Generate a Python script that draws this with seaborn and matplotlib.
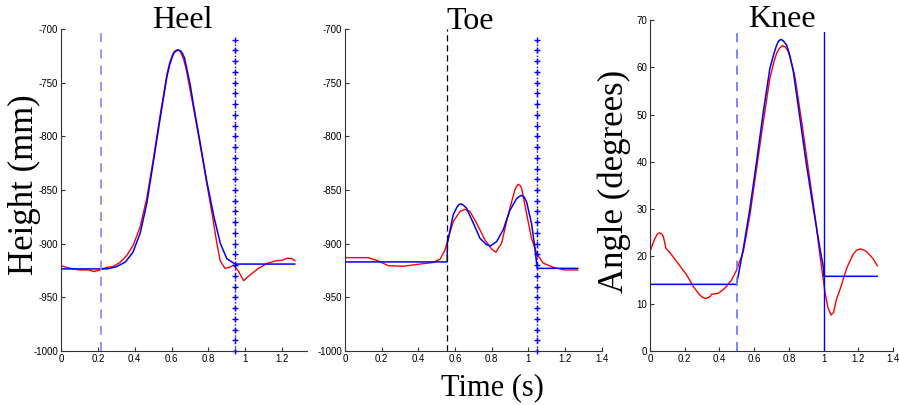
import numpy as np
import pandas as pd
import matplotlib
matplotlib.use('Agg')
import matplotlib.pyplot as plt
import seaborn as sns

# ---- data ----
heel_model_t = [0, 0.25, 0.30, 0.35, 0.39, 0.43, 0.466, 0.50, 0.54, 0.575, 0.59, 0.60, 0.61,
                0.62, 0.635, 0.65, 0.66, 0.67, 0.685, 0.70, 0.72, 0.755, 0.79, 0.83, 0.865,
                0.90, 0.945, 1.27]
heel_model_h = [-923.5, -923.5, -921.5, -917, -908, -890, -862, -825, -781, -744, -733, -728,
                -723, -721, -719.5, -720.5, -723, -727, -739, -751, -772, -806, -841, -875,
                -900, -914, -919, -919]
heel_meas_t = [0, 0.05, 0.10, 0.15, 0.18, 0.21, 0.25, 0.28, 0.32, 0.357, 0.393, 0.43, 0.466,
               0.50, 0.54, 0.575, 0.59, 0.605, 0.615, 0.628, 0.64, 0.65, 0.665, 0.68, 0.715,
               0.75, 0.785, 0.82, 0.846, 0.864, 0.89, 0.915, 0.937, 0.964, 0.991, 1.027,
               1.072, 1.118, 1.163, 1.20, 1.227, 1.254, 1.27]
heel_meas_h = [-920.5, -923, -924.5, -924.5, -926, -924.5, -922, -921.5, -917.5, -911, -901,
               -884, -857, -822, -778, -742, -731, -724, -721, -719.5, -720, -722, -728, -738,
               -770, -803, -838, -872, -900, -916, -923, -922, -920, -926, -934.5, -929,
               -923, -918.5, -916, -915.5, -913.5, -914, -916]

toe_model_t = [0, 0.557, 0.558, 0.59, 0.612, 0.622, 0.632, 0.645, 0.663, 0.70, 0.736, 0.772,
               0.794, 0.827, 0.863, 0.899, 0.936, 0.95, 0.963, 0.977, 0.99, 1.017, 1.035,
               1.048, 1.27]
toe_model_h = [-917, -917, -900, -873, -865.5, -863.5, -863, -864, -867, -881, -895, -901,
               -902, -898, -887, -869, -858, -856, -855, -856.5, -861, -881, -903,
               -923, -923]
toe_meas_t = [0, 0.06, 0.127, 0.18, 0.236, 0.318, 0.409, 0.48, 0.518, 0.545, 0.563, 0.59,
              0.627, 0.654, 0.681, 0.718, 0.763, 0.80, 0.823, 0.854, 0.89, 0.926, 0.936,
              0.945, 0.955, 0.963, 0.99, 1.017, 1.045, 1.08, 1.135, 1.20, 1.27]
toe_meas_h = [-913, -913, -913, -916, -920.5, -921, -919, -917.5, -914.5, -906, -895, -879.5,
              -870, -868, -870, -881, -896.5, -905, -908, -899.5, -873, -850, -846.5,
              -844.7, -845.8, -848.4, -871.7, -895, -909, -918, -922, -924.5, -924.5]

knee_model_t = [0, 0.499, 0.538, 0.576, 0.614, 0.653, 0.691, 0.715, 0.73, 0.742, 0.755,
                0.768, 0.787, 0.805, 0.826, 0.864, 0.902, 0.941, 0.979, 1.0, 1.001, 1.31]
knee_model_a = [14.1, 14.1, 21.7, 30.2, 40.0, 50.6, 59.8, 63.0, 64.7, 65.6, 65.9,
                65.6, 64.7, 62.6, 59.1, 49.2, 39.3, 30.2, 21.7, 17.5, 15.8, 15.8]
knee_meas_t = [0, 0.015, 0.029, 0.042, 0.054, 0.066, 0.077, 0.092, 0.115, 0.154, 0.211, 0.25,
               0.288, 0.305, 0.323, 0.346, 0.355, 0.394, 0.432, 0.47, 0.499, 0.538, 0.576,
               0.614, 0.653, 0.691, 0.715, 0.73, 0.745, 0.762, 0.78, 0.797, 0.815, 0.835,
               0.874, 0.912, 0.95, 0.979, 1.008, 1.025, 1.043, 1.058, 1.075, 1.094, 1.133,
               1.171, 1.19, 1.21, 1.23, 1.248, 1.286, 1.31]
knee_meas_a = [21.0, 22.6, 23.8, 24.7, 25.0, 24.8, 24.2, 21.7, 20.8, 18.9, 16.1, 13.6,
               11.8, 11.3, 11.1, 11.5, 12.0, 12.2, 13.3, 15.0, 17.1, 21.1, 28.8,
               38.6, 48.5, 57.7, 61.3, 63.0, 64.0, 64.6, 64.3, 63.3, 61.0, 58.0,
               48.5, 38.6, 28.8, 20.3, 12.5, 9.2, 7.6, 8.2, 11.0, 12.9, 17.5,
               20.5, 21.3, 21.6, 21.4, 21.0, 19.5, 18.0]

heel_start, heel_end = 0.215, 0.945
toe_start, toe_end = 0.556, 1.048
knee_start, knee_end = 0.5, 1.0

height_ticks = [-1000, -950, -900, -850, -800, -750, -700]
angle_ticks = [0, 10, 20, 30, 40, 50, 60, 70]
time_ticks = [0, 0.2, 0.4, 0.6, 0.8, 1, 1.2, 1.4]
time_labels = ['0', '0.2', '0.4', '0.6', '0.8', '1', '1.2', '1.4']

# ---- style ----
sns.set_style('ticks')
plt.rcParams['axes.unicode_minus'] = False
plt.rcParams['xtick.direction'] = 'in'
plt.rcParams['ytick.direction'] = 'in'
tick_font = ['Liberation Sans Narrow', 'Liberation Sans', 'DejaVu Sans']
serif = ['Liberation Serif', 'DejaVu Serif']

fig = plt.figure(figsize=(8.99, 4.05), dpi=100)
ax1 = fig.add_axes([0.0679, 0.1333, 0.2736, 0.7951])
ax2 = fig.add_axes([0.3838, 0.1333, 0.2855, 0.7951])
ax3 = fig.add_axes([0.7230, 0.1333, 0.2703, 0.8173])


def curves(ax, t_meas, v_meas, t_mod, v_mod):
    sns.lineplot(x=t_meas, y=v_meas, ax=ax, color='#ff0000', linewidth=1.0,
                 estimator=None, sort=False)
    sns.lineplot(x=t_mod, y=v_mod, ax=ax, color='#0000ff', linewidth=1.1,
                 estimator=None, sort=False)


def plus_line(ax, x):
    ys = np.arange(-1000, -709, 10)
    ax.plot([x] * len(ys), ys, ':', color='#0000ff', marker='+', markersize=5,
            markeredgewidth=1.0, linewidth=1.0, clip_on=False)


# Heel
curves(ax1, heel_meas_t, heel_meas_h, heel_model_t, heel_model_h)
ax1.plot([heel_start, heel_start], [-1000, -700], '--', color='#8c8cff', linewidth=1.3,
         dashes=(5, 4))
plus_line(ax1, heel_end)
ax1.set_xlim(0, 1.335)
ax1.set_ylim(-1000, -700)
ax1.set_yticks(height_ticks)
ax1.set_yticklabels([str(v) for v in height_ticks])
ax1.set_xticks(time_ticks[:-1])
ax1.set_xticklabels(time_labels[:-1])

# Toe
curves(ax2, toe_meas_t, toe_meas_h, toe_model_t, toe_model_h)
ax2.plot([toe_start, toe_start], [-1000, -700], '--', color='black', linewidth=0.9,
         dashes=(5, 3))
plus_line(ax2, toe_end)
ax2.set_xlim(0, 1.4)
ax2.set_ylim(-1000, -700)
ax2.set_yticks(height_ticks)
ax2.set_yticklabels([str(v) for v in height_ticks])
ax2.set_xticks(time_ticks)
ax2.set_xticklabels(time_labels)

# Knee
curves(ax3, knee_meas_t, knee_meas_a, knee_model_t, knee_model_a)
ax3.plot([knee_start, knee_start], [0, 68.5], '--', color='#7777ff', linewidth=1.3,
         dashes=(5, 4))
ax3.plot([knee_end, knee_end], [0, 67.5], '-', color='#0000ff', linewidth=1.0)
ax3.set_xlim(0, 1.4)
ax3.set_ylim(0, 70)
ax3.set_yticks(angle_ticks)
ax3.set_yticklabels([str(v) for v in angle_ticks])
ax3.set_xticks(time_ticks)
ax3.set_xticklabels(time_labels)

for ax in (ax1, ax2, ax3):
    sns.despine(ax=ax)
    ax.spines['left'].set_color('#333333')
    ax.spines['bottom'].set_color('#333333')
    ax.tick_params(length=3, width=0.8, color='#333333', labelcolor='black',
                   labelsize=7, pad=2)
    for lab in ax.get_xticklabels() + ax.get_yticklabels():
        lab.set_family(tick_font)
    ax.set_xlabel('')
    ax.set_ylabel('')

# titles and axis labels
fig.text(0.203, 0.949, 'Heel', ha='center', va='center', fontsize=23, family=serif,
         color='black')
fig.text(0.523, 0.947, 'Toe', ha='center', va='center', fontsize=23, family=serif,
         color='black')
fig.text(0.870, 0.951, 'Knee', ha='center', va='center', fontsize=23, family=serif,
         color='black')
fig.text(0.0267, 0.543, 'Height (mm)', rotation=90, ha='center', va='center',
         fontsize=25, family=serif, color='black')
fig.text(0.683, 0.551, 'Angle (degrees)', rotation=90, ha='center', va='center',
         fontsize=25, family=serif, color='black')
fig.text(0.548, 0.042, 'Time (s)', ha='center', va='center', fontsize=22, family=serif,
         color='black')

fig.savefig('out.png', dpi=100)
